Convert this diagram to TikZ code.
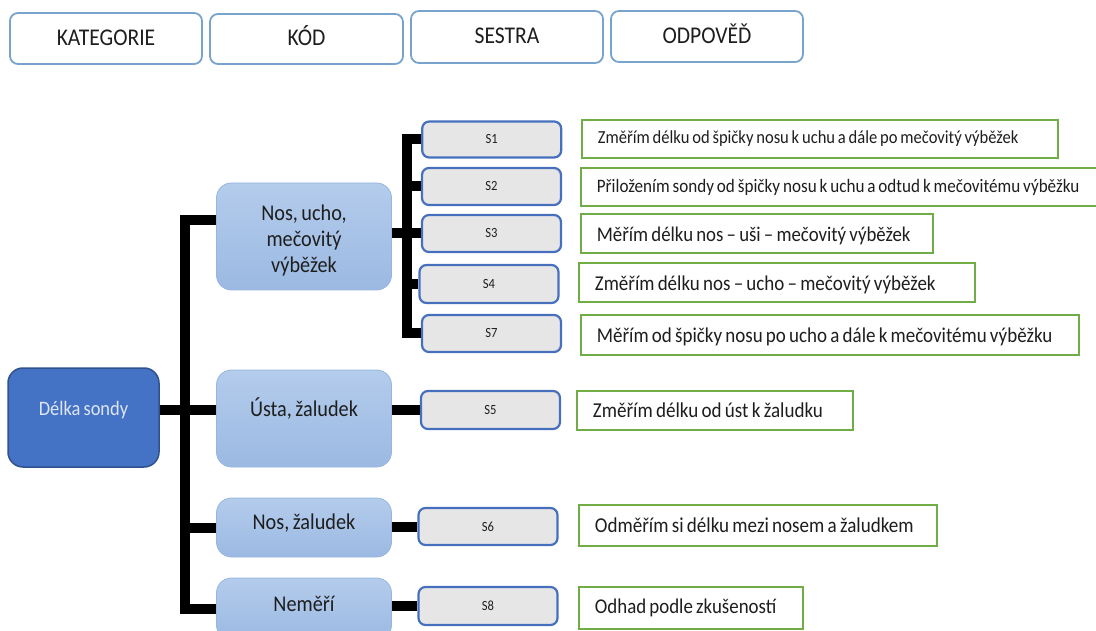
\documentclass[tikz,border=0pt]{standalone}
\usepackage{fontspec}
\setmainfont[FakeStretch=0.9, WordSpace=0.75]{Carlito}
\definecolor{hdrline}{RGB}{120,163,204}
\definecolor{delfill}{RGB}{68,114,196}
\definecolor{delline}{RGB}{47,82,143}
\definecolor{deltext}{RGB}{222,230,245}
\definecolor{cattop}{RGB}{180,204,236}
\definecolor{catbot}{RGB}{155,185,226}
\definecolor{catline}{RGB}{150,181,224}
\definecolor{sfill}{RGB}{231,230,230}
\definecolor{sline}{RGB}{70,112,190}
\definecolor{ansline}{RGB}{112,173,71}
\definecolor{txt}{RGB}{30,30,30}
\begin{document}
\begin{tikzpicture}[x=1pt,y=-1pt,
  hdr/.style={draw=hdrline, line width=1.8pt, fill=white, rounded corners=8pt,
    minimum width=192pt, minimum height=51pt, inner sep=0pt, text=txt,
    text height=16pt, text depth=2pt, font=\fontsize{24}{28}\selectfont},
  root/.style={draw=delline, line width=1.5pt, fill=delfill, rounded corners=15pt,
    minimum width=151pt, minimum height=99pt, inner sep=0pt},
  roottext/.style={text=deltext, font=\fontsize{20.5}{24}\selectfont},
  cat/.style={draw=catline, line width=0.8pt, top color=cattop, bottom color=catbot,
    rounded corners=15pt, minimum width=175pt, inner sep=0pt},
  cattext/.style={text=txt, align=center, font=\fontsize{22.5}{26}\selectfont},
  code/.style={draw=sline, line width=2.2pt, fill=sfill, rounded corners=7pt,
    minimum width=139pt, minimum height=37pt, inner sep=0pt, text=txt,
    font=\fontsize{14}{16}\selectfont},
  ans/.style={draw=ansline, line width=2.6pt, fill=white, inner sep=0pt},
  anstext/.style={anchor=west, xshift=17pt, text=txt, inner sep=0pt},
  conn/.style={draw=black, line width=10pt, line join=miter, line cap=butt}
]
\clip (0,0) rectangle (1096,631);
\useasboundingbox (0,0) rectangle (1096,631);

% column headers
\node[hdr] (h1) at (106,38.5) {KATEGORIE};
\node[hdr, minimum width=193pt, minimum height=50pt] (h2) at (306.5,39) {KÓD};
\node[hdr, minimum height=52pt] (h3) at (507,37) {SESTRA};
\node[hdr] (h4) at (707,36.5) {ODPOVĚĎ};

% root
\node[root, label={[roottext, yshift=7.5pt]center:Délka sondy}] (Delka) at (83.5,417.5) {};

% categories
\node[cat, minimum height=107pt, label={[cattext, yshift=-4pt]center:Nos, ucho,\\mečovitý\\výběžek}] (NU) at (304,236.5) {};
\node[cat, minimum height=97pt, label={[cattext, yshift=10pt]center:Ústa, žaludek}] (US) at (304,418.5) {};
\node[cat, minimum height=59pt, label={[cattext, yshift=4pt]center:Nos, žaludek}] (NZ) at (304,527.5) {};
\node[cat, minimum height=62pt, label={[cattext, yshift=5pt]center:Neměří}] (NM) at (304,609) {};

% nurse codes
\node[code, minimum height=36pt] (S1) at (491.7,139.5) {S1};
\node[code] (S2) at (491.5,186.5) {S2};
\node[code] (S3) at (491.5,233.5) {S3};
\node[code, minimum height=38pt] (S4) at (489,284) {S4};
\node[code] (S7) at (491.5,333.5) {S7};
\node[code, minimum height=38pt] (S5) at (490.5,410) {S5};
\node[code] (S6) at (488,526.5) {S6};
\node[code, minimum height=38pt] (S8) at (488,606) {S8};

% answers
\node[ans, minimum width=476pt, minimum height=38pt,
  label={[anstext, font=\fontsize{18.4}{21}\selectfont]west:Změřím délku od špičky nosu k uchu a dále po mečovitý výběžek}] (A1) at (820,139) {};
\node[ans, minimum width=519pt, minimum height=38pt,
  label={[anstext, font=\fontsize{19}{22}\selectfont]west:Přiložením sondy od špičky nosu k uchu a odtud k mečovitému výběžku}] (A2) at (840.5,187) {};
\node[ans, minimum width=352pt, minimum height=39pt,
  label={[anstext, yshift=-2pt, font=\fontsize{20.9}{24}\selectfont]west:Měřím délku nos – uši – mečovitý výběžek}] (A3) at (757,233.5) {};
\node[ans, minimum width=396pt, minimum height=39pt,
  label={[anstext, yshift=-2pt, font=\fontsize{21.1}{24}\selectfont]west:Změřím délku nos – ucho – mečovitý výběžek}] (A4) at (777,282.5) {};
\node[ans, minimum width=498pt, minimum height=40pt,
  label={[anstext, yshift=-2pt, font=\fontsize{21.1}{24}\selectfont]west:Měřím od špičky nosu po ucho a dále k mečovitému výběžku}] (A5) at (830,335) {};
\node[ans, minimum width=276pt, minimum height=39pt,
  label={[anstext, font=\fontsize{21.2}{24}\selectfont]west:Změřím délku od úst k žaludku}] (A6) at (715,410.5) {};
\node[ans, minimum width=358pt, minimum height=41pt,
  label={[anstext, font=\fontsize{21.2}{24}\selectfont]west:Odměřím si délku mezi nosem a žaludkem}] (A7) at (758,525.5) {};
\node[ans, minimum width=224pt, minimum height=42pt,
  label={[anstext, font=\fontsize{21}{24}\selectfont]west:Odhad podle zkušeností}] (A8) at (691,608) {};

% main trunk
\coordinate (trunk) at (185,410);
\draw[conn] ([yshift=16.5pt]NU.west) -| (trunk) |- (NM.west);
\draw[conn] (trunk) |- (NZ.west);
\draw[conn] (Delka.east |- S5.west) -- (US.west |- S5.west);

% bracket to the first group of codes
\coordinate (sbar) at (406.7,233.5);
\draw[conn] (NU.east |- S3.west) -- (S3.west);
\draw[conn] (S1.west) -| (sbar) |- (S7.west);
\draw[conn] (sbar |- S2.west) -- (S2.west);
\draw[conn] (sbar |- S4.west) -- (S4.west);

% single codes
\draw[conn] (US.east |- S5.west) -- (S5.west);
\draw[conn] (NZ.east |- S6.west) -- (S6.west);
\draw[conn] (NM.east |- S8.west) -- (S8.west);
\end{tikzpicture}
\end{document}
